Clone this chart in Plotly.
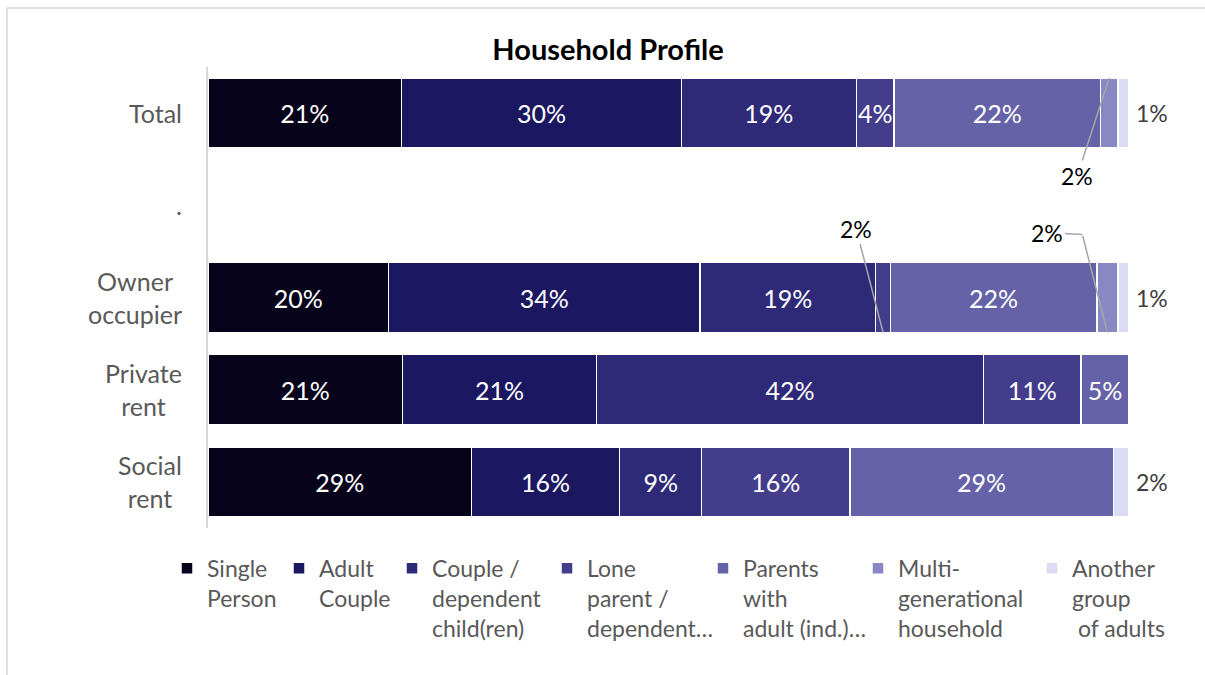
import plotly.graph_objects as go

# Household composition by tenure (percent of households)
categories = ["Total", ".", "Owner occupier", "Private rent", "Social rent"]
category_labels = ["Total", ".", "Owner<br>occupier", "Private<br>rent", "Social<br>rent"]

series_names = [
    "Single<br>Person",
    "Adult<br>Couple",
    "Couple /<br>dependent<br>child(ren)",
    "Lone<br>parent /<br>dependent…",
    "Parents<br>with<br>adult (ind.)…",
    "Multi-<br>generational<br>household",
    "Another<br>group<br>\u00a0of adults",
]

single_person = [21.0, None, 19.6, 21.1, 28.6]
adult_couple = [30.4, None, 33.8, 21.1, 16.1]
couple_dependent = [19.0, None, 19.1, 42.0, 8.9]
lone_parent = [4.1, None, 1.6, 10.6, 16.1]
parents_adult = [22.4, None, 22.4, 5.2, 28.6]
multi_generational = [1.9, None, 2.3, None, None]
another_group = [1.2, None, 1.2, None, 1.7]

series_values = [single_person, adult_couple, couple_dependent, lone_parent,
                 parents_adult, multi_generational, another_group]

colors = ["#06031a", "#1b1760", "#2e2a78", "#433d8b", "#6562a8", "#8a87c5", "#dcdbf5"]

# left edge (px) of each legend entry along the bottom row
legend_x_px = [167, 279, 392, 547, 703, 858, 1032]

# thin segments labelled with a leader line:
# (series index, category, bar edge, label dx, label dy, elbow or None)
callouts = [
    (5, "Total", -1, -32, 98, None),
    (3, "Owner occupier", 1, -27, -104, None),
    (5, "Owner occupier", 1, -60, -100, (-25, -98)),
]

FONT = "Lato, 'Noto Sans', sans-serif"
BARGAP = 0.24
MIN_INSIDE = 3.0
W, H = 1205, 675
LABEL_SIZE = 25

fig = go.Figure()

last = len(series_values) - 1
for k, (name, vals, col) in enumerate(zip(series_names, series_values, colors)):
    texts = [f"{v:.0f}%" if (k != last and v is not None and v >= MIN_INSIDE) else ""
             for v in vals]
    fig.add_trace(go.Bar(
        name=name,
        y=categories,
        x=vals,
        orientation="h",
        marker=dict(color=col, line=dict(color="white", width=1.5)),
        text=texts,
        textposition="inside",
        insidetextanchor="middle",
        insidetextfont=dict(color="white", size=LABEL_SIZE, family=FONT),
        textangle=0,
        cliponaxis=False,
        hoverinfo="skip",
        legend="legend" if k == 0 else f"legend{k + 1}",
    ))

annotations = []

# category labels, centred line by line
for cat, lab in zip(categories, category_labels):
    annotations.append(dict(
        x=0, xref="paper", y=cat, yref="y", text=lab, showarrow=False,
        xanchor="right", yanchor="middle", align="center", xshift=-24,
        font=dict(size=LABEL_SIZE, color="#595959", family=FONT),
    ))

# values of the last series sit just past the end of each stack
for i, v in enumerate(another_group):
    if v is None:
        continue
    end = sum((series_values[j][i] or 0) for j in range(len(series_values)))
    annotations.append(dict(
        x=end, xref="x", y=categories[i], yref="y", text=f"{v:.0f}%",
        showarrow=False, xanchor="left", yanchor="middle", xshift=5,
        font=dict(size=LABEL_SIZE - 2, color="#404040", family=FONT),
    ))

# leader-line labels for the thin segments
half = (1 - BARGAP) / 2
leader = dict(arrowhead=0, arrowwidth=1.5, arrowcolor="#a6a6a6", standoff=0)
label_font = dict(size=LABEL_SIZE - 2, color="#000000", family=FONT)
for s, cat, edge, dx, dy, elbow in callouts:
    i = categories.index(cat)
    base = sum((series_values[j][i] or 0) for j in range(s))
    v = series_values[s][i]
    tip = dict(x=base + v / 2, xref="x", y=i + edge * half, yref="y")
    if elbow is None:
        annotations.append(dict(**tip, text=f"{v:.0f}%", showarrow=True,
                                ax=dx, ay=dy, font=label_font, **leader))
    else:
        ex, ey = elbow
        # slanted part from the segment to the elbow
        annotations.append(dict(**tip, text="", showarrow=True, ax=ex, ay=ey, **leader))
        # horizontal part from the elbow to the label
        annotations.append(dict(**tip, xshift=ex, yshift=-ey, text=f"{v:.0f}%",
                                showarrow=True, ax=dx - ex, ay=dy - ey,
                                font=label_font, **leader))

legends = {}
for k, xp in enumerate(legend_x_px):
    key = "legend" if k == 0 else f"legend{k + 1}"
    legends[key] = dict(
        orientation="h", xref="container", x=xp / W, xanchor="left",
        yref="container", y=0.19, yanchor="top", valign="top",
        bgcolor="rgba(0,0,0,0)",
        font=dict(size=23, color="#595959", family=FONT),
        itemclick=False, itemdoubleclick=False,
    )

n = len(categories)
fig.update_layout(
    width=W, height=H,
    barmode="stack",
    bargap=BARGAP,
    paper_bgcolor="white", plot_bgcolor="white",
    margin=dict(l=208, r=76, t=67, b=147, pad=0),
    font=dict(family=FONT, size=23, color="#595959"),
    uniformtext=dict(minsize=LABEL_SIZE, mode="show"),
    title=dict(
        text="<b>Household Profile</b>", x=0.5046, xref="container", xanchor="center",
        y=0.926, yref="container", yanchor="middle",
        font=dict(size=29, color="#000000", family=FONT),
    ),
    xaxis=dict(range=[0, 100], visible=False, fixedrange=True),
    yaxis=dict(
        categoryorder="array", categoryarray=categories, range=[n - 0.5, -0.5],
        showticklabels=False, ticks="", showgrid=False, zeroline=False,
        showline=True, linecolor="#d9d9d9", linewidth=1.5,
    ),
    annotations=annotations,
    shapes=[dict(
        type="rect", xref="paper", yref="paper",
        x0=(7 - 208) / 921, x1=(1215 - 208) / 921,
        y0=(528 - 690) / 461, y1=(528 - 8) / 461,
        line=dict(color="#d9d9d9", width=1.5), fillcolor="rgba(0,0,0,0)", layer="below",
    )],
    showlegend=True,
    **legends,
)

fig.write_html("out.html")
